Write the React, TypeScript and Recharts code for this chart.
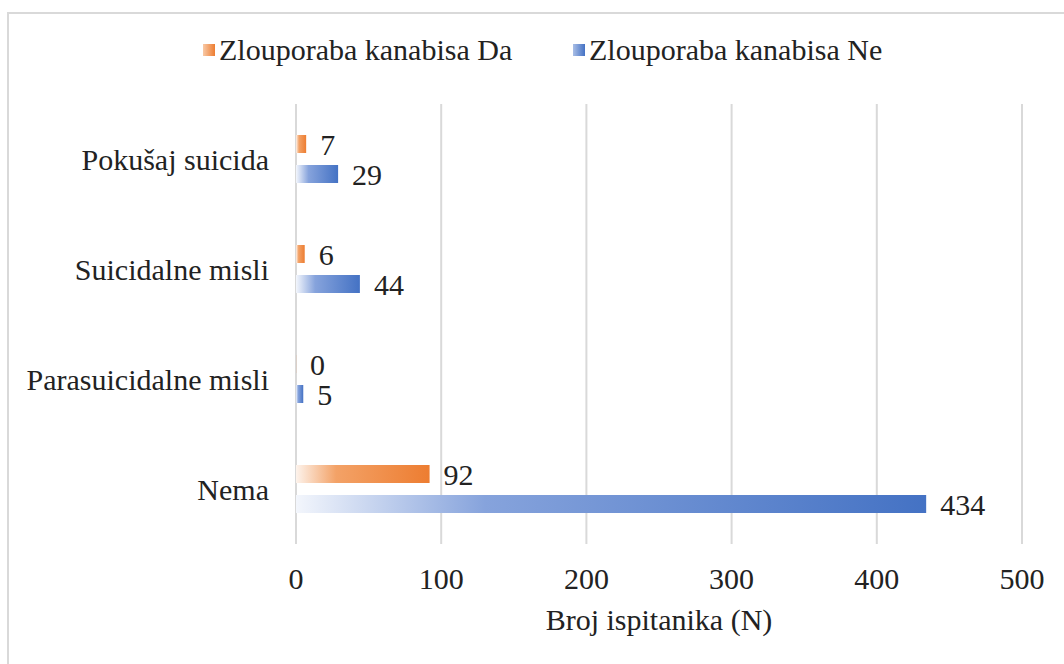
import { BarChart, Bar, XAxis, YAxis, CartesianGrid, LabelList } from 'recharts'

const categories = ['Pokušaj suicida', 'Suicidalne misli', 'Parasuicidalne misli', 'Nema']
const daValues = [7, 6, 0, 92]
const neValues = [29, 44, 5, 434]
const xTicks = [0, 100, 200, 300, 400, 500]
const seriesNames = ['Zlouporaba kanabisa Da', 'Zlouporaba kanabisa Ne']

const data = categories.map((name, i) => ({ name, da: daValues[i], ne: neValues[i] }))

const FONT = '"Liberation Serif", "Times New Roman", serif'
const TEXT = '#222222'
const ORANGE = '#ed7d31'
const BLUE = '#4472c4'

const legendItem = (left: number, color: string, light: string, label: string) => (
  <div style={{ position: 'absolute', left, top: 21, height: 30, display: 'flex', alignItems: 'center' }}>
    <span
      style={{
        display: 'inline-block',
        width: 12,
        height: 12,
        marginRight: 4,
        background: `linear-gradient(to right, ${light}, ${color})`,
      }}
    />
    <span style={{ fontFamily: FONT, fontSize: 30, lineHeight: '30px', color: TEXT, whiteSpace: 'nowrap' }}>{label}</span>
  </div>
)

export default function App() {
  return (
    <div
      style={{
        position: 'absolute',
        left: 7,
        top: 12,
        width: 1057,
        height: 652,
        boxSizing: 'border-box',
        borderLeft: '2px solid #d9d9d9',
        borderTop: '2px solid #d9d9d9',
        background: '#fff',
      }}
    >
      {legendItem(194, ORANGE, '#f8c9a6', seriesNames[0])}
      {legendItem(564, BLUE, '#a9bee6', seriesNames[1])}
      <BarChart
        width={1055}
        height={650}
        data={data}
        layout="vertical"
        margin={{ top: 90, right: 42, left: 0, bottom: 0 }}
        barSize={18}
        barGap={12}
      >
        <defs>
          <linearGradient id="gradDa" x1="0" y1="0" x2="1" y2="0">
            <stop offset="0%" stopColor="#fdf3ec" />
            <stop offset="30%" stopColor="#f3a267" />
            <stop offset="100%" stopColor={ORANGE} />
          </linearGradient>
          <linearGradient id="gradNe" x1="0" y1="0" x2="1" y2="0">
            <stop offset="0%" stopColor="#f3f6fc" />
            <stop offset="30%" stopColor="#86a3dc" />
            <stop offset="100%" stopColor={BLUE} />
          </linearGradient>
        </defs>
        <CartesianGrid horizontal={false} stroke="#d9d9d9" strokeWidth={2} />
        <XAxis
          type="number"
          domain={[0, 500]}
          ticks={xTicks}
          interval={0}
          axisLine={false}
          tickLine={false}
          tickMargin={18}
          height={120}
          tick={{ fill: TEXT, fontSize: 30, fontFamily: FONT }}
          label={{ value: 'Broj ispitanika (N)', position: 'insideBottom', offset: 34, fill: TEXT, fontSize: 30, fontFamily: FONT }}
        />
        <YAxis
          type="category"
          dataKey="name"
          width={287}
          axisLine={false}
          tickLine={false}
          tickMargin={21}
          interval={0}
          tick={{ fill: TEXT, fontSize: 30, fontFamily: FONT }}
        />
        <Bar dataKey="da" name={seriesNames[0]} fill="url(#gradDa)" minPointSize={0.1} isAnimationActive={false}>
          <LabelList dataKey="da" position="right" offset={14} fill={TEXT} fontSize={30} fontFamily={FONT} />
        </Bar>
        <Bar dataKey="ne" name={seriesNames[1]} fill="url(#gradNe)" isAnimationActive={false}>
          <LabelList dataKey="ne" position="right" offset={14} fill={TEXT} fontSize={30} fontFamily={FONT} />
        </Bar>
      </BarChart>
    </div>
  )
}
